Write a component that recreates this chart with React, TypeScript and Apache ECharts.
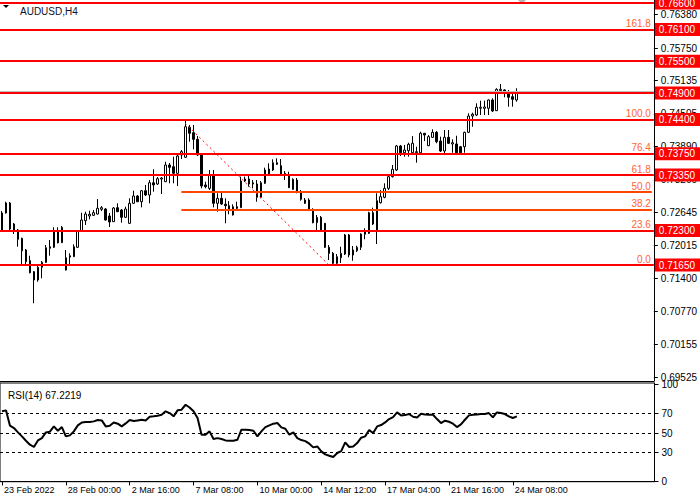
import React, { useEffect, useRef } from "react";
import * as echarts from "echarts";

const open = [
  0.72312, 0.72633, 0.72822, 0.72425, 0.72312, 0.72155, 0.71934, 0.71732, 0.71524, 0.71367,
  0.71607, 0.71701, 0.71966, 0.71985, 0.7228, 0.72072, 0.71556, 0.71801, 0.71807, 0.71985,
  0.72298, 0.72487, 0.72576, 0.72589, 0.72614, 0.72703, 0.72708, 0.72576, 0.72469, 0.72733,
  0.72689, 0.72551, 0.72438, 0.72816, 0.72954, 0.72846, 0.73054, 0.72973, 0.73205, 0.73181,
  0.73275, 0.73224, 0.7354, 0.73508, 0.73383, 0.73729, 0.73685, 0.74252, 0.7415, 0.74025,
  0.73729, 0.73162, 0.73099, 0.73332, 0.72816, 0.7291, 0.72797, 0.72771, 0.72595, 0.72752,
  0.72733, 0.73237, 0.73275, 0.73181, 0.73181, 0.72929, 0.73194, 0.73351, 0.73445, 0.73583,
  0.73527, 0.73383, 0.73351, 0.7308, 0.73256, 0.73035, 0.72816, 0.72878, 0.72703, 0.7245,
  0.72551, 0.72438, 0.71985, 0.71871, 0.71682, 0.71788, 0.71858, 0.72217, 0.71839, 0.71921,
  0.71985, 0.7223, 0.72249, 0.72638, 0.72312, 0.72827, 0.72929, 0.73099, 0.73319, 0.73445,
  0.73899, 0.73772, 0.7381, 0.73772, 0.73772, 0.73772, 0.74139, 0.73904, 0.74062, 0.74157,
  0.73993, 0.73804, 0.74063, 0.73937, 0.73937, 0.73885, 0.73885, 0.74157, 0.74465, 0.74484,
  0.74611, 0.74611, 0.74611, 0.74768, 0.74566, 0.74944, 0.74957, 0.74925, 0.7483, 0.74768,
];
const close = [
  0.72633, 0.72822, 0.72331, 0.72312, 0.72136, 0.7192, 0.71713, 0.71505, 0.71367, 0.71607,
  0.71701, 0.71977, 0.71996, 0.7228, 0.72072, 0.72363, 0.71788, 0.71826, 0.71996, 0.72298,
  0.725, 0.72614, 0.72608, 0.72639, 0.72722, 0.72733, 0.725, 0.72463, 0.72727, 0.72657,
  0.72551, 0.72708, 0.72816, 0.72954, 0.72846, 0.73054, 0.72973, 0.73205, 0.73162, 0.73281,
  0.73294, 0.7354, 0.73496, 0.73383, 0.7371, 0.73791, 0.74263, 0.74139, 0.74025, 0.73729,
  0.73143, 0.7313, 0.73351, 0.72816, 0.7291, 0.72803, 0.72771, 0.72708, 0.72752, 0.72721,
  0.73237, 0.73275, 0.73181, 0.73205, 0.72929, 0.73205, 0.73445, 0.73464, 0.73583, 0.73553,
  0.73364, 0.73364, 0.73111, 0.73269, 0.73035, 0.72891, 0.72878, 0.72703, 0.7245, 0.72551,
  0.72298, 0.71985, 0.71871, 0.71682, 0.71807, 0.71871, 0.72217, 0.71839, 0.71934, 0.71985,
  0.72236, 0.7228, 0.72638, 0.72425, 0.72865, 0.72941, 0.73099, 0.73319, 0.73458, 0.73899,
  0.73772, 0.73823, 0.73931, 0.7395, 0.73791, 0.74139, 0.74106, 0.74075, 0.74157, 0.7398,
  0.73804, 0.74063, 0.73949, 0.73961, 0.73772, 0.73772, 0.74157, 0.74465, 0.74498, 0.7463,
  0.7463, 0.74636, 0.74768, 0.7456, 0.7497, 0.7497, 0.74906, 0.74819, 0.74781, 0.74925,
];
const low = [
  0.72274, 0.72623, 0.7228, 0.72236, 0.71996, 0.71669, 0.71669, 0.71493, 0.70927, 0.71335,
  0.71399, 0.71688, 0.71826, 0.71972, 0.72057, 0.72066, 0.71547, 0.71669, 0.71801, 0.71972,
  0.72293, 0.72406, 0.72514, 0.72576, 0.72605, 0.7267, 0.72491, 0.72368, 0.72463, 0.72652,
  0.7245, 0.72538, 0.72425, 0.72803, 0.72841, 0.7274, 0.72954, 0.72816, 0.73035, 0.73162,
  0.72992, 0.73218, 0.73194, 0.73194, 0.73143, 0.73653, 0.73672, 0.7398, 0.73836, 0.7371,
  0.73099, 0.73099, 0.73067, 0.7274, 0.72657, 0.72784, 0.72438, 0.72608, 0.72586, 0.72708,
  0.72727, 0.73218, 0.7313, 0.73099, 0.72846, 0.7291, 0.73181, 0.73332, 0.73426, 0.7354,
  0.73351, 0.73256, 0.73105, 0.73067, 0.73005, 0.72865, 0.72803, 0.72676, 0.72438, 0.72312,
  0.72293, 0.71972, 0.71745, 0.71669, 0.71669, 0.71688, 0.71839, 0.71796, 0.71731, 0.71896,
  0.71934, 0.72136, 0.72236, 0.72406, 0.72047, 0.72812, 0.7291, 0.73067, 0.73304, 0.73426,
  0.7371, 0.73697, 0.73697, 0.73766, 0.73583, 0.73766, 0.73993, 0.73899, 0.7405, 0.7395,
  0.73785, 0.73729, 0.73937, 0.73772, 0.73766, 0.73766, 0.73772, 0.74144, 0.74263, 0.74465,
  0.74484, 0.74484, 0.74484, 0.74541, 0.7456, 0.74894, 0.74819, 0.74641, 0.74641, 0.74736,
];
const high = [
  0.7267, 0.72846, 0.72841, 0.72444, 0.72331, 0.72166, 0.71953, 0.71826, 0.71537, 0.71631,
  0.71726, 0.72028, 0.72123, 0.72363, 0.72363, 0.72387, 0.71934, 0.71871, 0.72041, 0.72312,
  0.72638, 0.72657, 0.72676, 0.72689, 0.72897, 0.72765, 0.72727, 0.72632, 0.72746, 0.72816,
  0.72708, 0.72752, 0.7291, 0.73054, 0.72973, 0.73067, 0.73162, 0.73256, 0.73458, 0.73313,
  0.73313, 0.73602, 0.73577, 0.73697, 0.7376, 0.73823, 0.74377, 0.74295, 0.74295, 0.74087,
  0.73766, 0.73224, 0.73445, 0.73445, 0.73005, 0.73011, 0.7291, 0.72859, 0.72797, 0.72846,
  0.73319, 0.73319, 0.73364, 0.73256, 0.73256, 0.73237, 0.73489, 0.73572, 0.73647, 0.73666,
  0.73653, 0.73426, 0.73413, 0.73288, 0.73294, 0.73067, 0.72916, 0.7291, 0.72722, 0.72595,
  0.72576, 0.72444, 0.72028, 0.71896, 0.71858, 0.71996, 0.72236, 0.72236, 0.72009, 0.72015,
  0.72249, 0.72344, 0.72657, 0.72733, 0.73005, 0.73067, 0.73194, 0.73364, 0.7354, 0.73918,
  0.73918, 0.73918, 0.73961, 0.74087, 0.73885, 0.74169, 0.74144, 0.74106, 0.74214, 0.74182,
  0.74075, 0.74201, 0.74201, 0.74025, 0.74093, 0.73899, 0.74169, 0.74516, 0.74528, 0.74705,
  0.74755, 0.74755, 0.74781, 0.748, 0.74989, 0.7507, 0.7497, 0.74957, 0.74881, 0.74989,
];
const rsi = [
  72.5, 73.5, 57.6, 55.2, 50.7, 46.6, 42.1, 38.0, 35.6, 42.4,
  44.8, 50.7, 51.4, 56.9, 52.4, 56.2, 46.6, 47.6, 51.8, 58.0,
  61.0, 61.4, 61.4, 62.1, 63.5, 63.1, 56.9, 57.6, 61.0, 59.7,
  56.9, 60.0, 63.5, 62.4, 63.1, 63.8, 63.1, 66.9, 67.3, 68.0,
  69.0, 72.5, 70.7, 67.3, 73.5, 74.2, 79.3, 76.5, 72.5, 65.6,
  48.3, 48.3, 51.8, 43.8, 44.8, 43.8, 42.4, 42.1, 42.1, 43.1,
  53.5, 53.5, 53.1, 52.4, 46.6, 51.8, 56.2, 58.0, 59.7, 60.4,
  55.9, 54.5, 48.3, 50.7, 44.8, 42.8, 41.7, 39.0, 35.2, 36.2,
  31.1, 28.0, 26.6, 25.3, 29.4, 31.4, 40.3, 35.6, 36.2, 39.7,
  45.2, 46.6, 53.1, 50.0, 56.9, 58.3, 61.0, 64.5, 66.5, 71.4,
  68.3, 68.6, 69.7, 66.9, 66.2, 70.0, 69.3, 69.0, 69.0, 64.5,
  60.4, 62.8, 61.7, 59.7, 56.2, 59.0, 63.8, 68.3, 69.0, 69.3,
  69.7, 69.7, 70.7, 66.2, 71.4, 70.7, 69.7, 67.3, 65.6, 67.2219,
];

const timeTickLabels = [
  "23 Feb 2022", "28 Feb 00:00", "2 Mar 16:00", "7 Mar 08:00", "10 Mar 00:00",
  "14 Mar 12:00", "17 Mar 04:00", "21 Mar 16:00", "24 Mar 08:00",
];
const barsPerTimeTick = 16;
const emptyRightSlots = 34;

const levelLines = [0.766, 0.761, 0.755, 0.749, 0.744, 0.7375, 0.7335, 0.723, 0.7165];
const priceTicks = [0.7638, 0.7575, 0.75135, 0.74505, 0.7389, 0.7326, 0.72645, 0.72015, 0.714, 0.7077, 0.70155, 0.69525];

const fibHigh = 0.744;
const fibLow = 0.7165;
const fibStartBar = 45;
const fibEndBar = 82;
const fibRatios = [0, 23.6, 38.2, 50.0, 61.8, 76.4, 100.0, 161.8];

const rsiLevels = [70, 50, 30];
const rsiTicks = [0, 30, 50, 70, 100];

export default function App() {
  const ref = useRef<HTMLDivElement>(null);

  useEffect(() => {
    if (!ref.current) return;
    const chart = echarts.init(ref.current, null, { renderer: "svg" });

    const n = open.length;
    const total = n + emptyRightSlots;
    const cats = Array.from({ length: total }, (_, i) => String(i));
    const candles = open.map((o, i) => [o, close[i], low[i], high[i]]);
    const lastIdx = total - 1;
    const showTime = (idx: number) => idx % barsPerTimeTick === 0 && idx / barsPerTimeTick < timeTickLabels.length;
    const font = "Liberation Sans, Arial, sans-serif";
    const rsiTickPos = rsiTicks.map((v) => (v === 0 ? 0.001 : v));

    const option: any = {
      animation: false,
      backgroundColor: "#ffffff",
      textStyle: { fontFamily: font },
      title: [
        { text: "AUDUSD,H4", left: 15, top: 1, textStyle: { fontSize: 10, fontWeight: "normal", color: "#10102a", fontFamily: font } },
        { text: "RSI(14) 67.2219", left: 3, top: 385, textStyle: { fontSize: 10, fontWeight: "normal", color: "#000", fontFamily: font } },
      ],
      graphic: [
        { type: "polygon", shape: { points: [[3, 5], [9, 5], [6, 8]] }, style: { fill: "#000" } },
        { type: "polygon", shape: { points: [[518, 0], [526, 0], [522, 4]] }, style: { fill: "#b4b4b4" } },
      ],
      grid: [
        { left: -1.5, right: 45.5, top: 0, height: 381 },
        { left: -1.5, right: 45.5, top: 383, height: 98.7, show: true, borderColor: "#000", borderWidth: 1, backgroundColor: "transparent" },
      ],
      xAxis: [
        {
          gridIndex: 0, type: "category", data: cats, boundaryGap: true,
          axisLine: { show: true, lineStyle: { color: "#000", width: 1 } },
          axisTick: { show: false }, axisLabel: { show: false }, splitLine: { show: false },
        },
        {
          gridIndex: 1, type: "category", data: cats, boundaryGap: true,
          axisLine: { show: true, lineStyle: { color: "#000", width: 1 } },
          axisTick: { show: true, alignWithLabel: true, interval: (idx: number) => showTime(idx), length: 4, lineStyle: { color: "#000" } },
          axisLabel: {
            interval: (idx: number) => showTime(idx),
            formatter: (_v: string, idx: number) => timeTickLabels[idx / barsPerTimeTick] || "",
            align: "left", margin: 4, fontSize: 9, color: "#000", padding: [0, 0, 0, 2], fontFamily: font,
          },
          splitLine: { show: false },
        },
      ],
      yAxis: [
        {
          gridIndex: 0, type: "value", position: "right", min: 0.69459, max: 0.76657,
          axisLine: { show: true, lineStyle: { color: "#000", width: 1 } },
          axisTick: { show: true, length: 4, customValues: priceTicks, lineStyle: { color: "#000" } },
          axisLabel: { customValues: priceTicks, formatter: (v: number) => v.toFixed(5), margin: 7, fontSize: 10, color: "#000", fontFamily: font },
          splitLine: { show: false },
        },
        {
          gridIndex: 1, type: "value", position: "right", min: -0.3, max: 101.8,
          axisLine: { show: true, lineStyle: { color: "#000", width: 1 } },
          axisTick: { show: true, length: 4, customValues: rsiTickPos, lineStyle: { color: "#000" } },
          axisLabel: {
            customValues: rsiTickPos, margin: 7, fontSize: 10, color: "#000", fontFamily: font,
            showMinLabel: true, showMaxLabel: true,
            formatter: (v: number) => String(Math.round(v)),
          },
          splitLine: { show: false },
        },
      ],
      series: [
        {
          type: "line", xAxisIndex: 0, yAxisIndex: 0, data: [], z: 1, silent: true,
          markLine: {
            silent: true, symbol: ["none", "none"], animation: false,
            lineStyle: { color: "#ff4500", width: 2, type: "solid" },
            label: { show: true, position: "insideEndTop", distance: 1, color: "#ff6633", fontSize: 10, fontFamily: font, formatter: (p: any) => p.name },
            data: [
              ...fibRatios.map((r) => {
                const v = fibLow + (fibHigh - fibLow) * (r / 100);
                return [{ name: r.toFixed(1), coord: [fibStartBar, v] }, { coord: [lastIdx, v] }];
              }),
              [
                { name: "", coord: [fibStartBar, fibHigh], lineStyle: { color: "#ff0000", width: 1, type: [2, 3] }, label: { show: false } },
                { coord: [fibEndBar, fibLow] },
              ],
            ],
          },
        },
        {
          type: "candlestick", xAxisIndex: 0, yAxisIndex: 0, data: candles, barWidth: 2, z: 2,
          silent: true,
          itemStyle: { color: "#ffffff", color0: "#000000", borderColor: "#000000", borderColor0: "#000000", borderWidth: 1 },
          markLine: {
            silent: true, symbol: ["none", "none"], animation: false, precision: 5,
            lineStyle: { color: "#ff0000", width: 2, type: "solid" },
            label: {
              show: true, position: "end", distance: 1, color: "#ffffff", backgroundColor: "#ff0000",
              padding: [2, 6, 1, 4], fontSize: 10, fontFamily: font, formatter: (p: any) => p.name,
            },
            data: [
              { name: "", yAxis: close[n - 1], lineStyle: { color: "#c0c0c0", width: 1 }, label: { show: false } },
              ...levelLines.map((v) => ({ name: v.toFixed(5), yAxis: v })),
            ],
          },
        },
        {
          type: "line", xAxisIndex: 1, yAxisIndex: 1, data: rsi, showSymbol: false, z: 3, silent: true,
          lineStyle: { color: "#000", width: 2 },
          markLine: {
            silent: true, symbol: ["none", "none"], animation: false,
            lineStyle: { color: "#000", width: 1, type: [3, 3] }, label: { show: false },
            data: rsiLevels.map((v) => ({ yAxis: v })),
          },
        },
      ],
    };

    chart.setOption(option);
    return () => chart.dispose();
  }, []);

  return <div ref={ref} style={{ position: "fixed", left: 0, top: 0, width: 700, height: 500, background: "#fff" }} />;
}
